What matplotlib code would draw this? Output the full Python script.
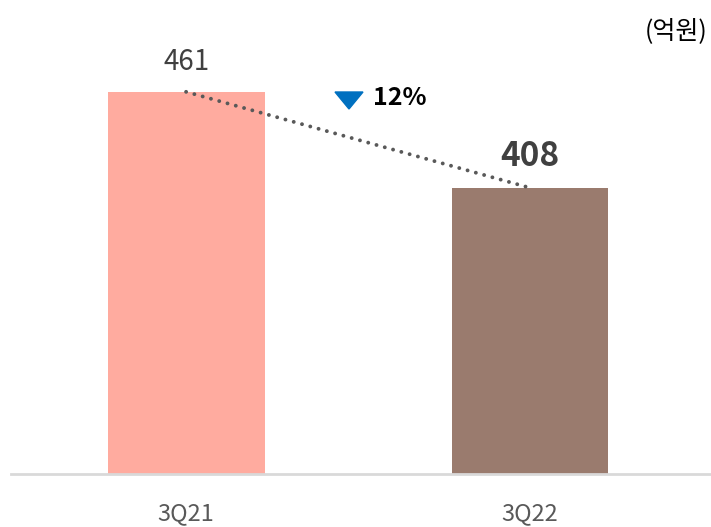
import matplotlib.pyplot as plt
from matplotlib.patches import Polygon

# 데이터
categories = ['3Q21', '3Q22']
values = [461, 408]
bar_colors = ['#FFAB9F', '#9A7B6E']
change_label = '12%'
unit_label = '(억원)'

plt.rcParams['font.family'] = ['Noto Sans CJK KR', 'DejaVu Sans']

W, H = 711, 527
fig = plt.figure(figsize=(W / 100, H / 100), dpi=100)
ax = fig.add_axes([11 / W, 53 / H, 700 / W, 474 / H])

x = list(range(len(categories)))
ax.bar(x, values, width=0.456, color=bar_colors, zorder=2)

# 점선 추세선 (막대 상단 중앙 연결)
ax.plot(x, values, linestyle=(0, (0.01, 2.2)), color='#595959', lw=2.8,
        zorder=3, dash_capstyle='round')

ax.set_xlim(-0.509, 1.526)
ax.set_ylim(250, 511.7)

# 값 라벨
ax.text(x[0], values[0] + 16.5, str(values[0]), ha='center', va='center',
        fontsize=20, color='#404040')
ax.text(x[1], values[1] + 17.5, str(values[1]), ha='center', va='center',
        fontsize=24, fontweight='bold', color='#404040')

# 증감 표시 (파란 삼각형 + 비율)
tri = Polygon([[335 / W, 1 - 92 / H], [363 / W, 1 - 92 / H],
               [349 / W, 1 - 109 / H]], closed=True,
              transform=fig.transFigure, color='#0070C0')
fig.patches.append(tri)
ax.text(0.5436, 457.6, change_label, ha='left', va='center', fontsize=18,
        fontweight='bold', color='black')

# 단위
fig.text(0.995, 1 - 31 / H, unit_label, ha='right', va='center', fontsize=18,
         color='black')

# 축 스타일
for s in ['top', 'right', 'left']:
    ax.spines[s].set_visible(False)
ax.spines['bottom'].set_color('#D9D9D9')
ax.spines['bottom'].set_linewidth(2)
ax.set_yticks([])
ax.set_xticks(x)
ax.set_xticklabels(categories, fontsize=17, color='#595959')
ax.tick_params(axis='x', length=0, pad=20)
ax.patch.set_alpha(0)

plt.savefig('out.png', dpi=100)
